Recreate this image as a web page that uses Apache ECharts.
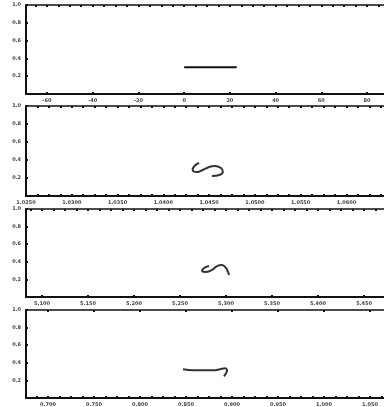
<!DOCTYPE html>
<html>
<head>
<meta charset="utf-8">
<script src="https://cdn.jsdelivr.net/npm/echarts@6/dist/echarts.min.js"></script>
<style>
  html, body { margin: 0; padding: 0; background: #fff; }
  #chart { width: 384px; height: 407px; }
</style>
</head>
<body>
<div id="chart"></div>
<script>
// ---- data: one trace per panel ----
const trace1X = [0, 23];
const trace1Y = [0.30, 0.30];

const trace2X = [1.0439, 1.0434, 1.0432, 1.0437, 1.0443, 1.0450, 1.0456, 1.0463, 1.0465, 1.0461, 1.0453];
const trace2Y = [0.367, 0.333, 0.289, 0.267, 0.289, 0.322, 0.333, 0.311, 0.267, 0.233, 0.222];

const trace3X = [5.2815, 5.2761, 5.2739, 5.2783, 5.2848, 5.2902, 5.2957, 5.3000, 5.3022, 5.3033];
const trace3Y = [0.352, 0.330, 0.295, 0.284, 0.307, 0.352, 0.364, 0.330, 0.284, 0.250];

const trace4X = [0.8467, 0.8576, 0.8685, 0.8794, 0.8870, 0.8924, 0.8946, 0.8935, 0.8913];
const trace4Y = [0.326, 0.315, 0.315, 0.315, 0.326, 0.337, 0.315, 0.281, 0.247];

// ---- tick labels ----
const yTickLabels = [0.2, 0.4, 0.6, 0.8, 1.0];
const xLabels1 = [-60, -40, -20, 0, 20, 40, 60, 80];
const xLabels2 = [1.025, 1.030, 1.035, 1.040, 1.045, 1.050, 1.055, 1.060];
const xLabels3 = [5.10, 5.15, 5.20, 5.25, 5.30, 5.35, 5.40, 5.45];
const xLabels4 = [0.70, 0.75, 0.80, 0.85, 0.90, 0.95, 1.00, 1.05];

// minor tick positions: quarter steps between labels
function minorTicks(start, step, min, max) {
  const out = [];
  for (let v = start; v <= max + 1e-9; v += step) {
    if (v >= min - 1e-9) out.push(+v.toFixed(6));
  }
  return out;
}

const panels = [
  { top: 5,   height: 89, min: -69.15, max: 87.4,  xs: trace1X, ys: trace1Y, labels: xLabels1, step: 5,       dec: 0,
    bottomTicks: 'major', topTicks: 'minor', color: '#111' },
  { top: 106, height: 90, min: 1.025,  max: 1.0641, xs: trace2X, ys: trace2Y, labels: xLabels2, step: 0.00125, dec: 4,
    bottomTicks: 'minor', topTicks: 'minor', color: '#333' },
  { top: 209, height: 88, min: 5.0826, max: 5.4717, xs: trace3X, ys: trace3Y, labels: xLabels3, step: 0.0125,  dec: 3,
    bottomTicks: 'major', topTicks: 'minor', color: '#333' },
  { top: 310, height: 89, min: 0.6761, max: 1.0652, xs: trace4X, ys: trace4Y, labels: xLabels4, step: 0.0125,  dec: 3,
    bottomTicks: 'minor', topTicks: 'major', color: '#333' }
];

const labelFont = { fontSize: 5, color: '#444', fontWeight: 'bold', fontFamily: 'DejaVu Sans' };

const grid = [], xAxis = [], yAxis = [], series = [];
panels.forEach((p, i) => {
  grid.push({ left: 26, right: 0, top: p.top, height: p.height });
  const minor = minorTicks(p.labels[0] - Math.ceil((p.labels[0] - p.min) / p.step) * p.step, p.step, p.min, p.max);
  const tickSet = kind => (kind === 'major' ? p.labels : minor);

  xAxis.push({
    type: 'value', gridIndex: i, position: 'bottom', min: p.min, max: p.max,
    axisLine: { onZero: false, lineStyle: { color: '#111', width: 2 } },
    axisTick: { show: true, inside: true, length: 2, lineStyle: { color: '#111', width: 2 }, customValues: tickSet(p.bottomTicks) },
    axisLabel: Object.assign({ customValues: p.labels, margin: 4, formatter: v => v.toFixed(p.dec) }, labelFont),
    splitLine: { show: false }
  });
  xAxis.push({
    type: 'value', gridIndex: i, position: 'top', min: p.min, max: p.max,
    axisLine: { onZero: false, lineStyle: { color: '#111', width: 1.5 } },
    axisTick: { show: true, inside: true, length: 2, lineStyle: { color: '#111', width: 2 }, customValues: tickSet(p.topTicks) },
    axisLabel: { show: false },
    splitLine: { show: false }
  });
  yAxis.push({
    type: 'value', gridIndex: i, min: 0, max: 1, position: 'left',
    axisLine: { show: true, onZero: false, lineStyle: { color: '#111', width: 2 } },
    axisTick: { show: true, inside: true, length: 2, lineStyle: { color: '#111', width: 2 }, customValues: yTickLabels },
    axisLabel: Object.assign({ customValues: yTickLabels, margin: 5, formatter: v => v.toFixed(1) }, labelFont),
    splitLine: { show: false }
  });
  series.push({
    type: 'line', xAxisIndex: i * 2, yAxisIndex: i,
    data: p.xs.map((x, k) => [x, p.ys[k]]),
    showSymbol: false, smooth: i > 0 ? 0.4 : false, silent: true,
    lineStyle: { color: p.color, width: 2 }
  });
});

const chart = echarts.init(document.getElementById('chart'), null, { renderer: 'canvas' });
chart.setOption({
  animation: false,
  backgroundColor: '#fff',
  grid, xAxis, yAxis, series
});
</script>
</body>
</html>
